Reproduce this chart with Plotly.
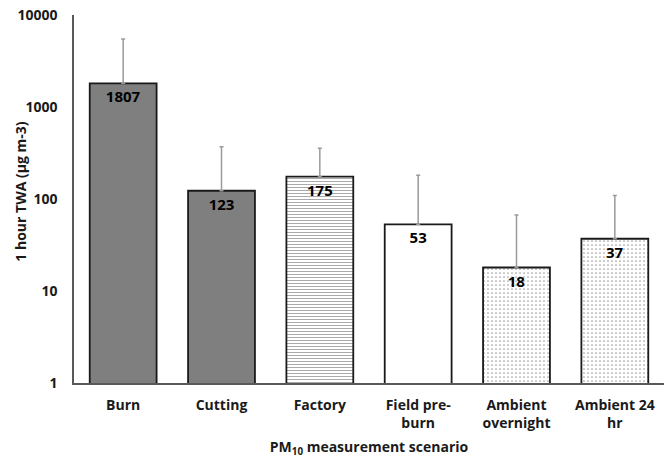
import plotly.graph_objects as go

# PM10 one-hour time-weighted averages by measurement scenario
categories = ["Burn", "Cutting", "Factory", "Field pre-<br>burn", "Ambient<br>overnight", "Ambient 24<br>hr"]
twa_values = [1807, 123, 175, 53, 18, 37]
upper_errors = [3670, 247, 181, 128, 49, 72]
y_ticks = [1, 10, 100, 1000, 10000]

fills = ["#7f7f7f", "#7f7f7f", "white", "white", "white", "white"]
shapes = ["", "", "-", "", ".", "."]
fg = ["#7f7f7f", "#7f7f7f", "#dedede", "#ffffff", "#c4c4c4", "#c4c4c4"]
sizes = [8, 8, 3, 8, 4, 4]
solid = [0.3, 0.3, 0.3, 0.3, 0.15, 0.15]

font_family = "'Open Sans', Lato, sans-serif"
bold = dict(family=font_family, size=14, weight="bold", color="#1a1a1a")

fig = go.Figure()
fig.add_trace(go.Bar(
    x=categories,
    y=twa_values,
    width=0.68,
    text=[str(v) for v in twa_values],
    textposition="inside",
    insidetextanchor="end",
    textangle=0,
    constraintext="none",
    textfont=dict(family=font_family, size=15, color="black", weight="bold"),
    marker=dict(
        color=fills,
        line=dict(color="#1a1a1a", width=1.8),
        pattern=dict(shape=shapes, fgcolor=fg, bgcolor=fills, size=sizes, solidity=solid),
    ),
    error_y=dict(type="data", symmetric=False, array=upper_errors,
                 arrayminus=[0] * len(twa_values),
                 color="#9a9a9a", thickness=1.5, width=2),
    showlegend=False,
))

fig.update_layout(
    width=664, height=458,
    margin=dict(l=74, r=0, t=15, b=75),
    paper_bgcolor="white", plot_bgcolor="white",
    font=dict(family=font_family, size=14, color="#1a1a1a"),
    xaxis=dict(
        showline=True, linecolor="#595959", linewidth=1.5,
        ticks="", showgrid=False,
        ticklabelstandoff=8,
        tickfont=bold,
        title=dict(text="PM<sub>10</sub> measurement scenario", font=bold, standoff=12),
    ),
    yaxis=dict(
        type="log", range=[0, 4],
        tickvals=y_ticks, ticktext=[str(v) for v in y_ticks],
        showline=True, linecolor="#595959", linewidth=1.5,
        ticks="", showgrid=False, zeroline=False,
        ticklabelstandoff=12,
        tickfont=bold,
    ),
    annotations=[dict(
        text="1 hour TWA (μg m-3)", textangle=-90,
        xref="paper", yref="paper", x=(21 - 74) / 590, y=0.52,
        xanchor="center", yanchor="middle", showarrow=False, font=bold,
    )],
)

fig.write_html("out.html")
